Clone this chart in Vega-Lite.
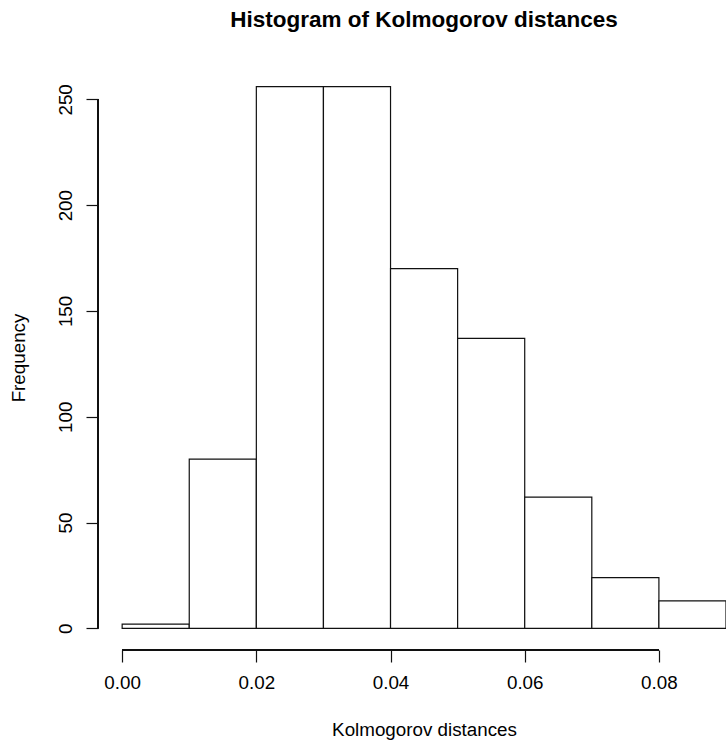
{
  "$schema": "https://vega.github.io/schema/vega-lite/v6.json",
  "width": 628,
  "height": 585,
  "autosize": {"type": "none"},
  "padding": {"left": 98, "top": 65, "right": 0, "bottom": 92},
  "background": "white",
  "title": {
    "text": "Histogram of Kolmogorov distances",
    "font": "Liberation Sans",
    "fontSize": 22.5,
    "fontWeight": "bold",
    "color": "black",
    "anchor": "middle",
    "frame": "group",
    "dx": 12,
    "offset": 16,
    "baseline": "alphabetic"
  },
  "config": {
    "view": {"stroke": null},
    "axis": {
      "grid": false,
      "domain": false,
      "labelFont": "Liberation Sans",
      "titleFont": "Liberation Sans",
      "labelFontSize": 18.8,
      "titleFontSize": 18.8,
      "titleFontWeight": "normal",
      "labelColor": "black",
      "titleColor": "black",
      "tickColor": "#111",
      "tickWidth": 1.2,
      "tickSize": 12
    }
  },
  "data": {
    "values": [
      {"start": 0.00, "end": 0.01, "count": 2},
      {"start": 0.01, "end": 0.02, "count": 80},
      {"start": 0.02, "end": 0.03, "count": 256},
      {"start": 0.03, "end": 0.04, "count": 256},
      {"start": 0.04, "end": 0.05, "count": 170},
      {"start": 0.05, "end": 0.06, "count": 137},
      {"start": 0.06, "end": 0.07, "count": 62},
      {"start": 0.07, "end": 0.08, "count": 24},
      {"start": 0.08, "end": 0.09, "count": 13}
    ]
  },
  "layer": [
    {
      "mark": {"type": "rect", "fill": "white", "stroke": "#111", "strokeWidth": 1.2},
      "encoding": {
        "x": {
          "field": "start",
          "type": "quantitative",
          "scale": {"domain": [-0.0036, 0.09], "nice": false, "zero": false},
          "axis": {
            "values": [0, 0.02, 0.04, 0.06, 0.08],
            "format": ".2f",
            "labelPadding": 11.5,
            "title": "Kolmogorov distances",
            "titlePadding": 28,
            "titleX": 326,
            "labelFlush": false,
            "labelOverlap": false
          }
        },
        "x2": {"field": "end"},
        "y": {
          "field": "count",
          "type": "quantitative",
          "scale": {"domain": [-10.24, 266.24], "nice": false, "zero": false},
          "axis": {
            "values": [0, 50, 100, 150, 200, 250],
            "labelAngle": 270,
            "labelPadding": 11,
            "title": "Frequency",
            "titlePadding": 28,
            "labelFlush": false,
            "labelOverlap": false
          }
        },
        "y2": {"datum": 0}
      }
    },
    {
      "mark": {"type": "rule", "stroke": "#111", "strokeWidth": 1.2},
      "encoding": {
        "x": {"datum": 0},
        "x2": {"datum": 0.08},
        "y": {"datum": -10.24}
      }
    },
    {
      "mark": {"type": "rule", "stroke": "#111", "strokeWidth": 1.2},
      "encoding": {
        "x": {"datum": -0.0036},
        "y": {"datum": 0},
        "y2": {"datum": 250}
      }
    }
  ]
}
